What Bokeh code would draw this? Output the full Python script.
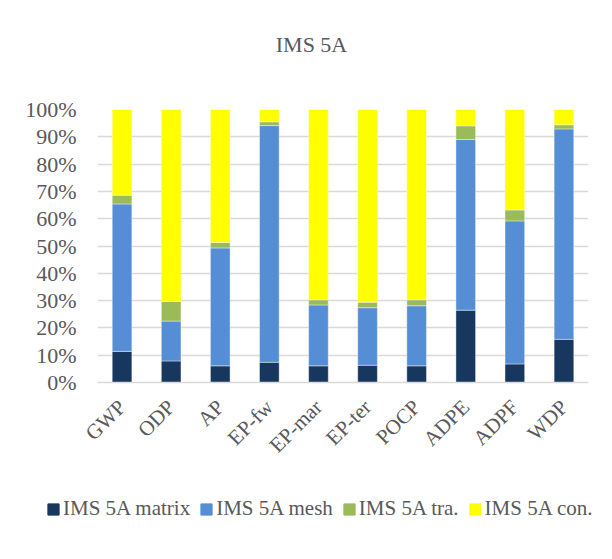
import math
from bokeh.plotting import figure
from bokeh.layouts import column, row
from bokeh.models import (FactorRange, Range1d, FixedTicker, PrintfTickFormatter,
                          Legend, LegendItem, Label)
from bokeh.embed import file_html
from bokeh.resources import INLINE

categories = ["GWP", "ODP", "AP", "EP-fw", "EP-mar", "EP-ter", "POCP", "ADPE", "ADPF", "WDP"]
matrix = [11.4, 7.9, 6.1, 7.4, 6.1, 6.3, 6.1, 26.5, 6.8, 15.8]
mesh = [54.0, 14.6, 43.2, 86.7, 22.3, 21.1, 22.0, 62.5, 52.4, 77.1]
tra = [3.2, 7.2, 2.0, 1.4, 1.9, 2.0, 2.2, 5.0, 4.0, 1.5]
con = [31.4, 70.3, 48.7, 4.5, 69.7, 70.6, 69.7, 6.0, 36.8, 5.6]
series_names = ["IMS 5A matrix", "IMS 5A mesh", "IMS 5A tra.", "IMS 5A con."]
y_ticks = [0, 10, 20, 30, 40, 50, 60, 70, 80, 90, 100]
title_text = "IMS 5A"

colors = ["#17375E", "#558ED5", "#9BBB59", "#FFFF00"]
FONT = "Liberation Serif"
GRAY = "#595959"
W = 604

data = dict(cat=categories, matrix=matrix, mesh=mesh, tra=tra, con=con)
keys = ["matrix", "mesh", "tra", "con"]


def blank(height):
    f = figure(width=W, height=height, x_range=FactorRange(*categories, range_padding=0),
               y_range=Range1d(0, 100), output_backend="svg", toolbar_location=None,
               min_border=0, x_axis_location=None, y_axis_location=None)
    f.grid.visible = False
    f.outline_line_color = None
    f.border_fill_color = "white"
    return f


# --- title strip (its frame is aligned with the chart frame, left = 97px) ---
top = blank(70)
top.add_layout(Label(x=214, y=26.5, x_units="screen", y_units="screen", text=title_text,
                     text_align="center", text_baseline="middle", text_font=FONT,
                     text_font_size="22px", text_color=GRAY))

# --- main chart ---
p = figure(x_range=FactorRange(*categories, range_padding=0), y_range=Range1d(0, 100),
           width=W, height=398, output_backend="svg", toolbar_location=None,
           min_border_left=97, min_border_right=16, min_border_top=39,
           min_border_bottom=86)

renderers = p.vbar_stack(keys, x="cat", width=0.4, source=data, color=colors,
                         line_color="white", line_width=0.8, line_alpha=0.5)

p.outline_line_color = None
p.background_fill_color = "white"
p.border_fill_color = "white"

p.xgrid.grid_line_color = None
p.ygrid.grid_line_color = "#D9D9D9"
p.ygrid.grid_line_width = 1.4

p.yaxis.ticker = FixedTicker(ticks=y_ticks)
p.yaxis.formatter = PrintfTickFormatter(format="%d%%")
p.yaxis.axis_line_color = None
p.yaxis.major_tick_line_color = None
p.yaxis.minor_tick_line_color = None
p.yaxis.major_label_standoff = 15
p.yaxis.major_label_text_font = FONT
p.yaxis.major_label_text_font_size = "22px"
p.yaxis.major_label_text_color = GRAY

p.xaxis.axis_line_color = "#D9D9D9"
p.xaxis.axis_line_width = 1.4
p.xaxis.major_tick_line_color = None
p.xaxis.minor_tick_line_color = None
p.xaxis.major_label_orientation = math.pi / 4
p.xaxis.major_label_standoff = 15
p.xaxis.major_label_text_font = FONT
p.xaxis.major_label_text_font_size = "21px"
p.xaxis.major_label_text_color = GRAY

# --- legend strip ---
bottom = blank(83)
leg_renderers = bottom.vbar_stack(keys, x="cat", width=0.4, source=data, color=colors,
                                  visible=False)
items = [LegendItem(label=n, renderers=[r]) for n, r in zip(series_names, leg_renderers)]
legend = Legend(items=items, orientation="horizontal", location=(46, 30),
                label_text_font=FONT, label_text_font_size="21px",
                label_text_color=GRAY, glyph_width=14, glyph_height=14,
                label_standoff=3, spacing=9, padding=0, margin=0,
                border_line_color=None, background_fill_alpha=0)
bottom.add_layout(legend, "center")

layout = column(top, p, row(bottom, spacing=0), spacing=0)
open("out.html", "w").write(file_html(layout, INLINE))
